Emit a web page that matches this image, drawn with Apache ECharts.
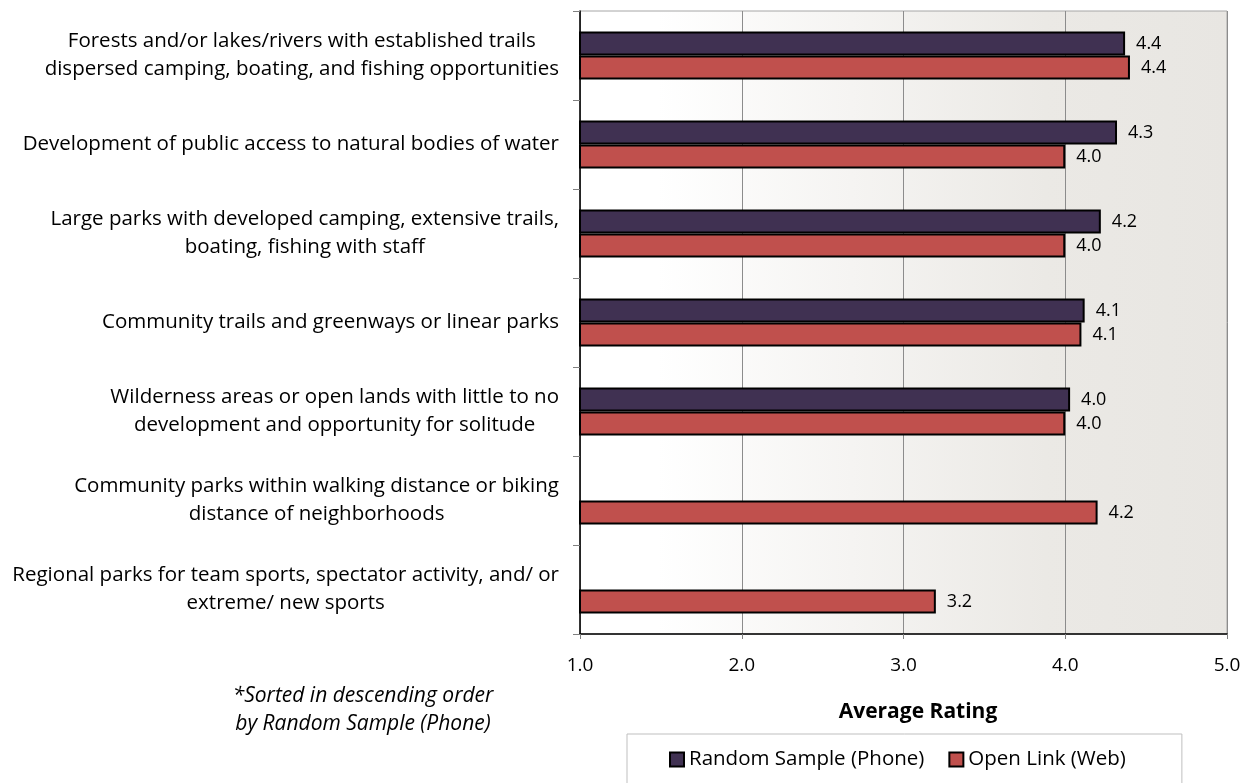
<!DOCTYPE html>
<html>
<head>
<meta charset="utf-8">
<script src="https://cdn.jsdelivr.net/npm/echarts@6/dist/echarts.min.js"></script>
<style>
  html, body { margin: 0; padding: 0; background: #ffffff; }
  #chart { width: 1244px; height: 783px; }
</style>
</head>
<body>
<div id="chart"></div>
<script>
// Park and open-space types, top to bottom
const categories = [
  'Forests and/or lakes/rivers with established trails\ndispersed camping, boating, and fishing opportunities',
  'Development of public access to natural bodies of water',
  'Large parks with developed camping, extensive trails,\nboating, fishing with staff',
  'Community trails and greenways or linear parks',
  'Wilderness areas or open lands with little to no\ndevelopment and opportunity for solitude',
  'Community parks within walking distance or biking\ndistance of neighborhoods',
  'Regional parks for team sports, spectator activity, and/ or\nextreme/ new sports'
];

// Average ratings by survey channel
const phoneRatings = [4.37, 4.32, 4.22, 4.12, 4.03, null, null];
const webRatings   = [4.40, 4.00, 4.00, 4.10, 4.00, 4.20, 3.20];

// Rating scale
const ratingMin = 1;
const ratingMax = 5;
const ratingStep = 1;

const seriesNames = ['Random Sample (Phone)', 'Open Link (Web)'];
const seriesColors = ['#403152', '#C0504D'];

const FONT = '"Open Sans", "Noto Sans", sans-serif';

const chart = echarts.init(document.getElementById('chart'), null, { renderer: 'canvas' });

function barSeries(name, data, color) {
  return {
    name: name,
    type: 'bar',
    data: data,
    barGap: '0%',
    barCategoryGap: '46%',
    itemStyle: { color: color, borderColor: '#000000', borderWidth: 2 },
    label: {
      show: true,
      position: 'right',
      distance: 11,
      fontFamily: FONT,
      fontSize: 18,
      color: '#000000',
      formatter: p => (p.value == null ? '' : Number(p.value).toFixed(1))
    },
    emphasis: { disabled: true }
  };
}

chart.setOption({
  animation: false,
  backgroundColor: '#ffffff',
  textStyle: { fontFamily: FONT, color: '#000000' },
  title: [
    {
      text: 'Average Rating',
      left: 913,
      top: 697,
      textAlign: 'center',
      textStyle: { fontFamily: FONT, fontSize: 21, fontWeight: 'bold', color: '#000000' }
    },
    {
      text: '*Sorted in descending order\nby Random Sample (Phone)',
      left: 358,
      top: 677,
      textAlign: 'center',
      textStyle: { fontFamily: FONT, fontSize: 21, fontStyle: 'italic', fontWeight: 'normal', color: '#000000', lineHeight: 28 }
    }
  ],
  legend: {
    data: seriesNames,
    left: 627,
    top: 734,
    padding: [15, 56, 40, 42],
    borderColor: '#bfbfbf',
    borderWidth: 1,
    itemGap: 24,
    itemWidth: 14,
    itemHeight: 14,
    icon: 'rect',
    textStyle: { fontFamily: FONT, fontSize: 20.5, color: '#000000' }
  },
  grid: {
    left: 580,
    right: 17,
    top: 11,
    bottom: 149,
    show: true,
    borderColor: '#a6a6a6',
    borderWidth: 1,
    backgroundColor: new echarts.graphic.LinearGradient(0, 0, 1, 0, [
      { offset: 0, color: '#ffffff' },
      { offset: 0.12, color: '#ffffff' },
      { offset: 0.72, color: '#ebe9e5' },
      { offset: 1, color: '#e8e6e2' }
    ])
  },
  xAxis: {
    type: 'value',
    min: ratingMin,
    max: ratingMax,
    interval: ratingStep,
    axisLine: { show: true, lineStyle: { color: '#000000', width: 1.5 } },
    axisTick: { show: true, length: 5, lineStyle: { color: '#808080' } },
    axisLabel: {
      margin: 22,
      fontFamily: FONT,
      fontSize: 19,
      color: '#000000',
      formatter: v => v.toFixed(1)
    },
    splitLine: { show: true, lineStyle: { color: '#8c8c8c', width: 1 } }
  },
  yAxis: {
    type: 'category',
    data: categories,
    inverse: true,
    axisLine: { show: true, lineStyle: { color: '#000000', width: 1.5 } },
    axisTick: { show: true, length: 7, lineStyle: { color: '#808080' } },
    axisLabel: {
      margin: 21,
      align: 'right',
      fontFamily: FONT,
      fontSize: 20.5,
      color: '#000000',
      formatter: v => v.split('\n').map(line => '{c|' + line + '}').join('\n'),
      rich: {
        c: { align: 'center', fontFamily: FONT, fontSize: 20.5, color: '#000000', lineHeight: 28 }
      }
    },
    splitLine: { show: false }
  },
  series: [
    barSeries(seriesNames[0], phoneRatings, seriesColors[0]),
    barSeries(seriesNames[1], webRatings, seriesColors[1])
  ]
});
</script>
</body>
</html>
